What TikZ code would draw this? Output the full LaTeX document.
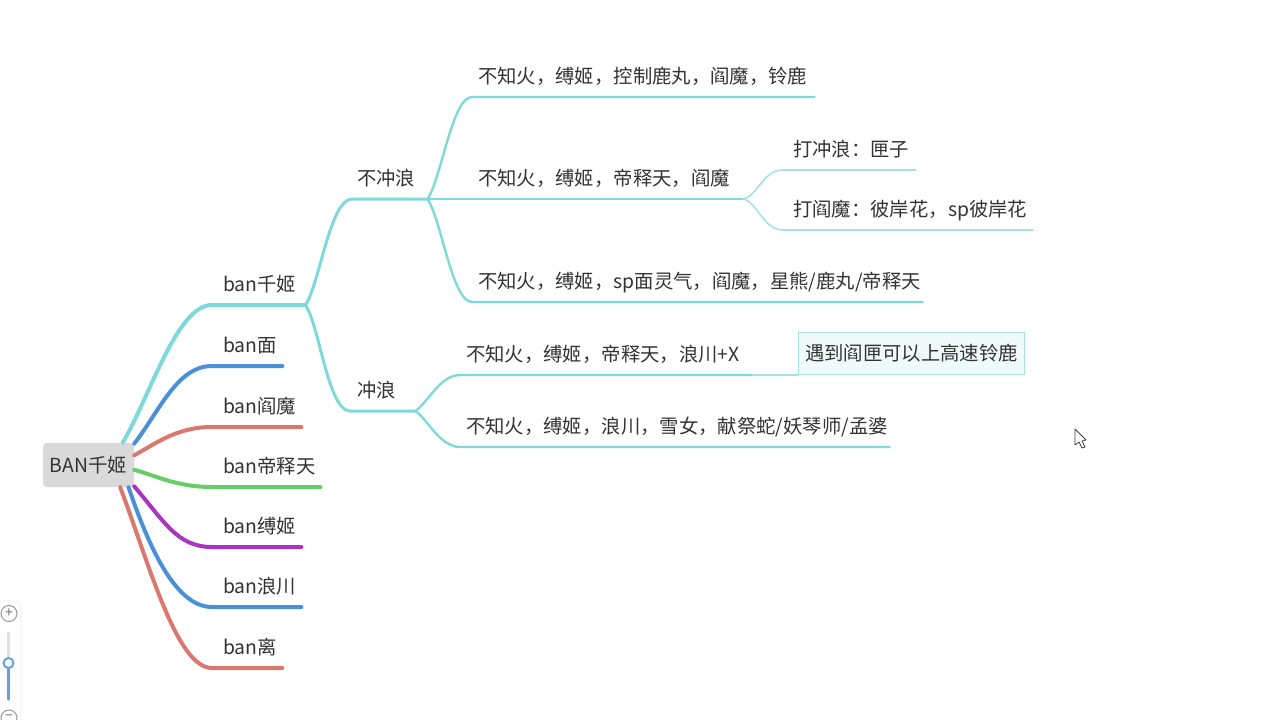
\documentclass[tikz,border=0pt]{standalone}
\usepackage{xcolor}
\usepackage{fontspec}
\setmainfont{Noto Sans CJK SC}
\usetikzlibrary{positioning}
\definecolor{tealLine}{HTML}{7FD8DA}
\definecolor{tealThin}{HTML}{A6E1E4}
\definecolor{blueLine}{HTML}{4A90D9}
\definecolor{redLine}{HTML}{D9786F}
\definecolor{greenLine}{HTML}{66CC66}
\definecolor{purpleLine}{HTML}{A934BF}
\definecolor{labelText}{HTML}{333333}
\tikzset{
    topic/.style 2 args={inner xsep=0pt, inner ysep=9.5pt, anchor=south west, align=left,
        text width=#1pt, text height=15pt, text depth=4pt, text=labelText,
        font=\fontsize{19.35}{23}\selectfont, execute at begin node={\hspace*{#2pt}}},
    rootbox/.style={fill=black!15, rounded corners=4pt, text=labelText, minimum width=91pt,
        minimum height=44pt, inner sep=0pt, font=\fontsize{19.35}{23}\selectfont},
    notebox/.style={draw=tealThin, fill=tealLine!12, line width=1.2pt, anchor=south west,
        minimum width=226pt, minimum height=42pt, inner sep=0pt, text=labelText,
        font=\fontsize{19.35}{23}\selectfont},
    zoombtn/.style={circle, draw=black!40, fill=white, line width=1pt, minimum size=16pt,
        inner sep=0pt, text=black!55, font=\fontsize{14}{14}\selectfont}
}

\begin{document}
\begin{tikzpicture}[x=1pt, y=-1pt]
    \useasboundingbox (0,0) rectangle (1280,720);
    \fill[white] (0,0) rectangle (1280,720);

    \node[rootbox] (root) at (88.5,465) {BAN千姬};

    % Draw first level
    \foreach \name/\ang/\ox/\oy/\y/\xend/\col/\txt in {
        qianji/33/28/-48/305/305/tealLine/ban千姬,
        mian/25/25/-32/366/282/blueLine/ban面,
        yanmo/12/22/-12/427/301/redLine/ban阎魔,
        dishi/-6/22/6/487/320/greenLine/ban帝释天,
        fuji/-25/30/35/547/301/purpleLine/ban缚姬,
        langchuan/-29/22/65/607/301/blueLine/ban浪川,
        li/-35/30/80/668/282/redLine/ban离} {
        \pgfmathtruncatemacro{\laneWidth}{\xend - 212}
        \node[topic={\laneWidth}{11}] (\name) at (212,\y) {\txt};
        \draw[\col, line width=4pt, line cap=round] (root.\ang) .. controls +(\ox,\oy) and +(-35,0) .. (\name.south west) -- (\name.south east);
    }

    % Draw second level
    \foreach \name/\xstart/\xend/\y/\oy/\shiftx/\txt in {
        buchong/352/427/199/-20/5/不冲浪,
        chong/350/415/411/20/7/冲浪} {
        \pgfmathtruncatemacro{\laneWidth}{\xend - \xstart}
        \node[topic={\laneWidth}{\shiftx}] (\name) at (\xstart,\y) {\txt};
        \draw[tealLine, line width=3pt] (qianji.south east) .. controls +(14,\oy) and +(-22,0) .. (\name.south west) -- (\name.south east);
    }

    % Draw third level
    \foreach \name/\parent/\xstart/\xend/\y/\ox/\oy/\shiftx/\txt in {
        kongzhi/buchong/472/815/97/14/-20/6/{不知火，缚姬，控制鹿丸，阎魔，铃鹿},
        dishitian/buchong/472/743/199/14/0/6/{不知火，缚姬，帝释天，阎魔},
        lingqi/buchong/472/923/302/14/20/6/{不知火，缚姬，sp面灵气，阎魔，星熊/鹿丸/帝释天},
        langx/chong/460/752/375/12/-8/6/{不知火，缚姬，帝释天，浪川+X},
        xuenv/chong/460/890/447/12/8/6/{不知火，缚姬，浪川，雪女，献祭蛇/妖琴师/孟婆}} {
        \pgfmathtruncatemacro{\laneWidth}{\xend - \xstart}
        \node[topic={\laneWidth}{\shiftx}] (\name) at (\xstart,\y) {\txt};
        \draw[tealLine, line width=2.4pt] (\parent.south east) .. controls +(\ox,\oy) and +(-20,0) .. (\name.south west) -- (\name.south east);
    }

    % Draw last level
    \foreach \name/\xend/\y/\oy/\txt in {
        dachong/916/170/-3/{打冲浪：匣子},
        dayan/1033/230/3/{打阎魔：彼岸花，sp彼岸花}} {
        \pgfmathtruncatemacro{\laneWidth}{\xend - 783}
        \node[topic={\laneWidth}{10}] (\name) at (783,\y) {\txt};
        \draw[tealThin, line width=1.6pt] (dishitian.south east) .. controls +(14,\oy) and +(-20,0) .. (\name.south west) -- (\name.south east);
    }

    % Draw note
    \node[notebox] (gaosu) at (798,375) {遇到阎匣可以上高速铃鹿};
    \draw[tealThin, line width=1.4pt] (langx.south east) -- (gaosu.south west);

    % Draw zoom slider
    \fill[black!3] (0,600) -- (14,600) arc (-90:0:8) -- (22,720) -- (0,720) -- cycle;
    \fill[white] (0,602) -- (13,602) arc (-90:0:7) -- (20,720) -- (0,720) -- cycle;
    \node[zoombtn] (zoomin) at (9,613.5) {+};
    \node[zoombtn] (zoomout) at (9,718) {−};
    \draw[black!12, line width=3.5pt] (8.5,632) -- (8.5,663);
    \draw[blueLine!85!white, line width=3.5pt, line cap=round] (8.5,663) -- (8.5,699);
    \draw[blueLine!85!white, fill=white, line width=2pt] (8.5,663) circle (5);

    % Draw mouse pointer
    \draw[black!75, fill=white, line width=0.8pt, line join=round] (1075,429) -- (1075,445) -- (1079,442) -- (1082,448) -- (1085,447) -- (1082,441) -- (1086,440) -- cycle;
\end{tikzpicture}
\end{document}
